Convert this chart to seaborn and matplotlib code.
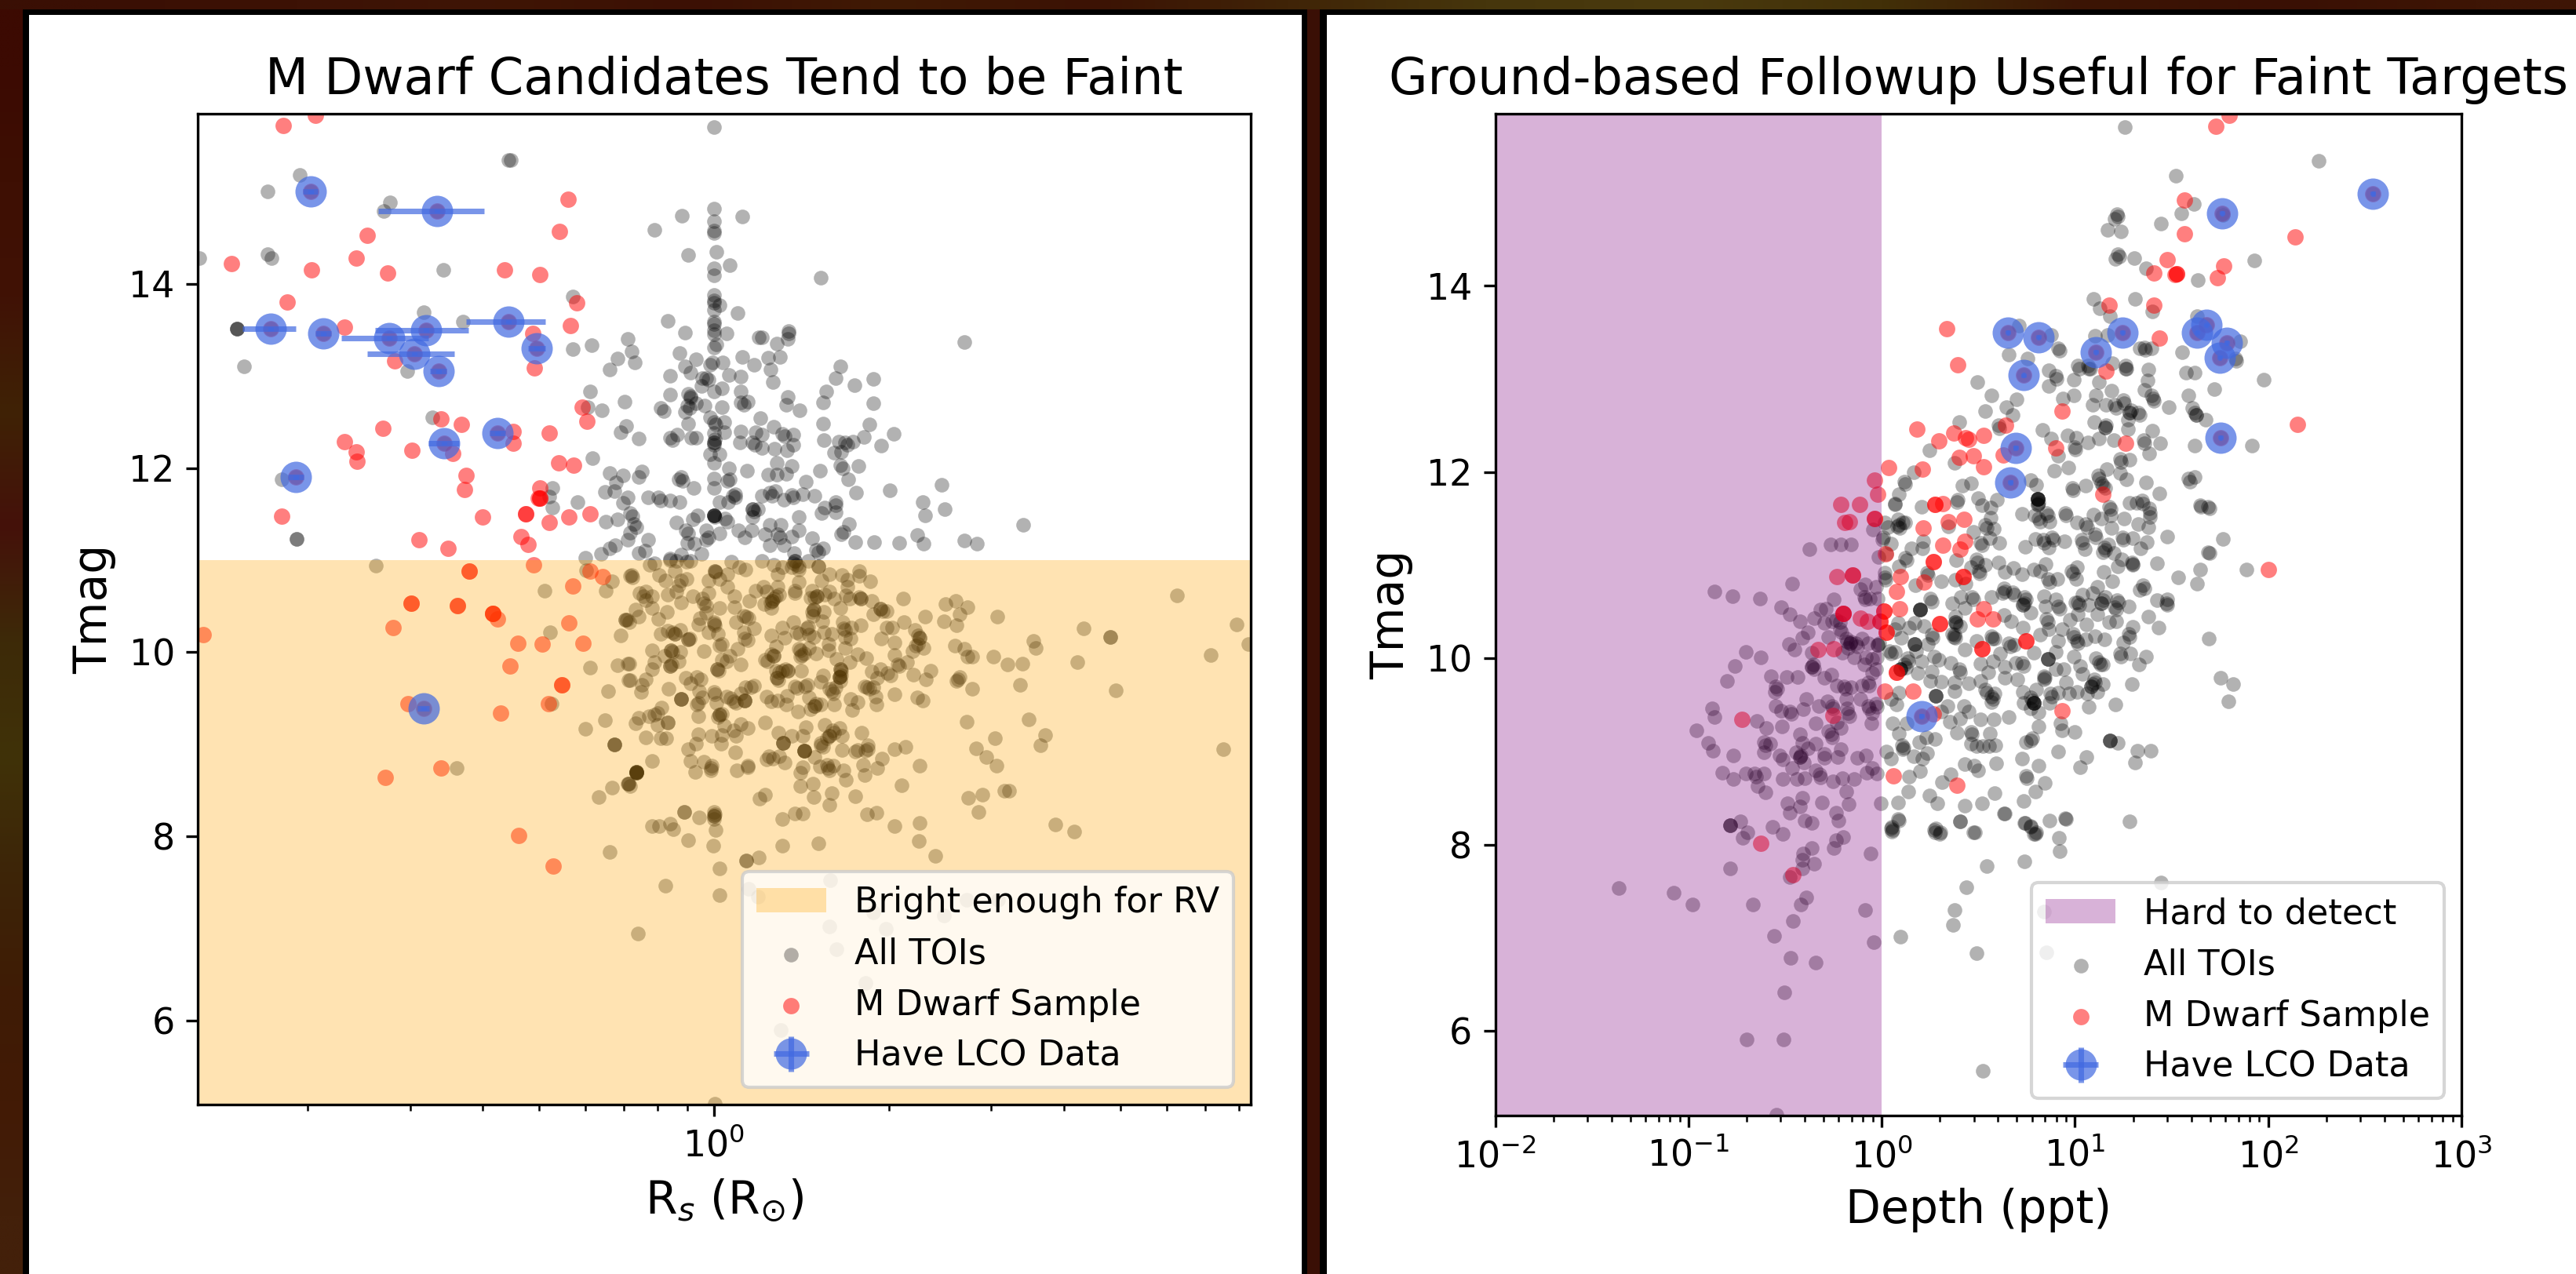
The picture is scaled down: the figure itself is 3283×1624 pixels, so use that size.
import numpy as np
import matplotlib
matplotlib.use('Agg')
import matplotlib.pyplot as plt
from matplotlib.colors import to_rgb
from matplotlib.patches import Rectangle
import seaborn as sns

# All values: (log10 Rs, Tmag) and (log10 depth, Tmag)
toi_rs_tmag = [
    (-.142,10.84),(-.103,10.97),(-.110,10.95),(-.076,11.0),(-.065,10.99),(-.047,10.98),(-.040,10.99),(-.094,10.84),
    (-.083,10.78),(-.067,10.88),(-.047,10.80),(-.056,10.78),(-.061,10.73),(.001,10.88),(.001,10.88),(.003,10.87),
    (.009,10.80),(-.009,10.78),(.023,10.85),(.023,10.71),(.030,10.98),(.043,10.92),(.054,10.90),(.035,10.61),
    (-.009,10.64),(-.036,10.61),(-.020,10.58),(-.018,10.53),(-.014,10.51),(.009,10.48),(.035,10.49),(-.079,10.63),
    (-.065,10.66),(-.057,10.54),(-.128,10.64),(-.122,10.61),(-.117,10.66),(-.106,10.61),(-.117,10.57),(-.106,10.48),
    (-.135,10.46),(-.130,10.39),(-.096,10.36),(-.081,10.44),(-.15,10.35),(-.146,10.33),(-.024,10.37),(-.027,10.30),
    (0,10.31),(0,10.33),(.002,10.29),(-.009,10.22),(.007,10.20),(-.014,10.43),(.038,10.33),(.052,10.40),(.056,10.39),
    (.060,10.37),(.069,10.26),(.052,10.22),(.058,10.13),(.053,10.15),(-.092,10.20),(-.079,10.23),(-.068,10.20),
    (-.068,10.20),(-.072,10.22),(-.058,10.24),(-.045,10.14),(-.045,10.14),(-.042,10.15),(.013,10.09),(.009,10.07),
    (-.017,10.01),(-.107,10.02),(-.074,10.02),(-.074,10.02),(-.072,10.00),(-.058,10.00),(-.085,9.96),(-.103,9.89),
    (-.061,9.90),(-.075,9.85),(-.075,9.85),(-.073,9.87),(-.106,9.82),(-.146,9.88),(.041,10.04),(.027,9.96),(.014,9.92),
    (.022,9.90),(.046,9.87),(.005,9.82),(.005,9.82),(.008,9.80),(-.049,9.72),(-.029,9.73),(-.023,9.71),(-.040,9.66),
    (-.117,9.71),(-.124,9.65),(-.144,9.70),(-.126,9.57),(-.078,9.60),(-.025,9.58),(-.020,9.51),(0,9.57),(.002,9.54),
    (-.057,9.49),(-.057,9.49),(-.057,9.49),(-.030,9.43),(-.027,9.45),(.004,9.45),(.022,9.52),(.029,9.50),(.034,9.47),
    (.038,9.45),(.046,9.55),(.054,9.62),(.069,9.64),(.063,9.62),(.053,9.48),(.053,9.48),(.053,9.48),(-.091,9.40),
    (-.103,9.32),(-.097,9.34),(-.112,9.31),(-.130,9.29),(-.135,9.23),(-.097,9.21),(-.080,9.24),(-.080,9.24),(-.027,9.31),
    (.009,9.32),(.009,9.32),(.007,9.30),(.014,9.33),(.017,9.20),(.034,9.15),(.046,9.22),(.058,9.18),(-.118,9.08),
    (-.092,9.07),(-.082,9.07),(-.027,9.11),(-.004,9.09),(.014,9.10),(.038,9.09),(-.031,9.01),(-.044,8.95),(.012,9.01),
    (.036,8.91),(-.106,8.82),(-.040,8.82),(-.018,8.81),(-.004,8.77),(-.005,8.72),(-.005,8.74),(-.033,8.70),(.039,8.72),
    (.058,8.77),(.058,8.75),(-.133,8.70),(-.133,8.70),(-.133,8.70),(-.133,8.70),(-.148,8.57),(-.144,8.55),
    (.083,10.99),(.103,10.95),(.117,10.92),(.139,10.99),(.139,10.99),(.136,10.97),(.142,10.95),(.146,10.93),(.133,10.92),
    (.162,10.99),(.146,10.90),(.179,10.93),(.179,10.93),(.110,10.85),(.198,10.85),(.220,10.84),(.250,10.88),(.250,10.83),
    (.269,10.77),(.185,10.78),(.229,10.79),(.229,10.71),(.146,10.76),(.110,10.71),(.085,10.71),(.072,10.67),(.090,10.66),
    (.112,10.63),(.107,10.61),(.061,10.56),(.100,10.56),(.100,10.56),(.103,10.58),(.097,10.54),(.086,10.52),(.098,10.48),
    (.139,10.67),(.139,10.64),(.169,10.67),(.177,10.61),(.177,10.61),(.173,10.59),(.198,10.66),(.191,10.63),(.166,10.59),
    (.207,10.58),(.227,10.62),(.234,10.58),(.253,10.58),(.253,10.58),(.250,10.60),(.272,10.56),(.217,10.48),(.172,10.46),
    (.172,10.46),(.169,10.44),(.189,10.44),(.170,10.40),(.186,10.34),(.325,10.58),(.286,10.47),(.286,10.47),(.290,10.45),
    (.297,10.45),(.274,10.41),(.136,10.33),(.117,10.27),(.162,10.28),(.159,10.26),(.142,10.22),(.147,10.20),(.121,10.16),
    (.098,10.18),(.163,10.19),(.172,10.17),(.189,10.22),(.202,10.20),(.221,10.33),(.223,10.26),(.226,10.24),(.236,10.27),
    (.253,10.29),(.225,10.17),(.235,10.15),(.197,10.09),(.197,10.02),(.225,10.05),(.106,10.06),(.102,9.96),(.102,9.96),
    (.099,9.98),(.088,9.92),(.092,9.90),(.146,10.04),(.149,10.02),(.164,10.05),(.151,9.97),(.155,9.99),(.175,9.99),
    (.148,9.95),(.211,9.93),(.247,9.98),(.262,9.94),(.233,9.89),(.217,9.82),(.217,9.82),(.219,9.80),(.216,9.73),(.216,9.73),
    (.216,9.73),(.219,9.75),(.218,9.69),(.209,9.62),(.202,9.58),(.199,9.60),(.205,9.55),(.106,9.80),(.117,9.80),(.112,9.78),
    (.127,9.80),(.127,9.80),(.123,9.82),(.108,9.72),(.108,9.72),(.111,9.70),(.150,9.80),(.188,9.75),(.184,9.68),(.143,9.61),
    (.139,9.63),(.161,9.65),(.156,9.63),(.091,9.52),(.098,9.47),(.110,9.48),(.126,9.53),(.124,9.43),(.164,9.51),(.173,9.42),
    (.173,9.42),(.176,9.44),(.166,9.38),(.144,9.36),(.184,9.43),(.206,9.43),(.235,9.49),(.247,9.46),(.237,9.37),(.280,9.43),
    (.278,9.52),(.259,9.63),(.263,9.62),(.267,9.60),(.274,9.62),(.272,9.79),(.286,9.82),(.281,9.72),(.299,9.77),(.304,9.75),
    (.310,9.54),(.310,9.97),(.287,10.15),(.297,10.27),(.307,10.27),(.326,10.33),(.310,10.11),(.345,10.24),(.354,10.16),
    (.354,10.16),(.351,10.18),(.351,10.09),(.347,10.07),(.361,10.05),(.342,10.01),(.332,9.89),(.316,9.87),(.319,9.85),
    (.343,9.76),(.372,9.80),(.364,9.71),(.349,9.51),(.359,9.48),(.363,10.39),(.398,10.52),(.416,10.56),(.436,10.49),
    (.422,10.41),(.395,10.34),(.417,10.29),(.487,10.39),(.414,10.07),(.430,10.04),(.436,9.95),(.444,9.95),(.481,9.95),
    (.423,9.73),(.417,9.69),(.420,9.71),(.444,9.60),(.435,9.25),(.483,9.07),(.451,8.96),(.469,8.86),(.486,8.77),
    (.088,9.24),(.111,9.13),(.134,9.09),(.119,9.02),(.119,9.02),(.119,9.02),(.152,9.09),(.158,9.19),(.190,9.21),(.216,9.18),
    (.204,9.15),(.207,9.13),(.198,9.09),(.198,9.09),(.195,9.07),(.220,9.09),(.184,9.02),(.184,8.99),(.187,8.97),(.254,9.13),
    (.264,8.99),(.264,8.95),(.261,8.93),(.243,8.92),(.247,8.94),(.220,8.94),(.155,8.93),(.155,8.93),(.155,8.93),(.155,8.93),
    (.173,8.86),(.095,8.87),(.090,8.84),(.101,8.85),(.112,8.87),(.121,8.80),(.153,8.75),(.149,8.69),(.182,8.76),(.195,8.78),
    (.205,8.77),(.199,8.72),(.196,8.74),(.223,8.72),(.227,8.62),(.256,8.78),(.259,8.67),(.281,8.74),(.289,8.85),(.310,8.95),
    (.330,8.97),(.354,8.77),(.322,8.56),(.148,8.55),(.170,8.57),(.171,8.43),(.203,8.47),(.243,8.44),(.198,8.34),(.088,8.45),
    (.078,8.41),(.437,8.42),(.461,8.45),(.455,8.27),(.499,8.5),(-.051,8.27),(-.051,8.27),(-.026,8.21),(0,8.27),(0,8.22),
    (0,8.22),(.001,8.24),(0,8.19),(-.107,8.11),(-.094,8.11),(-.075,8.14),(-.070,8.08),(.003,8.07),(-.045,7.96),(-.001,7.90),
    (.118,8.19),(.139,8.25),(.152,8.25),(.263,8.24),(.279,8.26),(.311,8.11),(.354,8.15),(.352,7.95),(.117,7.90),(.179,7.93),
    (.380,7.79),(.055,7.74),(.055,7.74),(.077,7.77),(.009,7.65),
    (-.582,10.94),(-.291,10.67),(-.282,10.22),(-.220,10.89),(-.186,10.67),(-.176,10.77),(-.213,9.83),(-.166,9.86),(-.148,9.88),
    (-.160,10.18),(-.144,10.83),(-.140,10.81),(-.153,10.35),(-.153,10.35),(-.147,9.70),(-.182,9.58),(-.280,9.44),(-.188,9.26),
    (-.221,9.17),(-.172,9.00),(-.172,9.00),(-.172,9.00),(-.442,8.74),(-.133,8.69),(-.133,8.69),(-.133,8.69),(-.147,8.57),
    (-.147,8.57),(-.176,8.53),(-.198,8.43),(-.180,7.83),(-.083,7.47),(-.131,6.95),(.009,7.36),(.001,5.10),(.059,7.43),(.076,7.35),
    (.796,10.62),(.899,10.30),(.855,9.97),(.919,10.09),(.636,10.26),(.682,10.17),(.682,10.17),(.625,9.89),(.691,9.59),(.876,8.95),
    (.550,10.12),(.554,10.05),(.505,9.87),(.531,9.88),(.526,9.65),(.541,9.27),(.569,9.10),(.561,8.99),(.508,8.50),(.587,8.13),(.619,8.05),
    (.2,7.53),(.434,7.31),(.489,7.31),(.274,7.18),(.395,7.14),(.296,7.0),(.198,7.02),(.211,6.78),(.260,6.41),(.115,5.90),
    (0,15.70),(-.349,15.34),(0,14.82),(-.055,14.74),(.049,14.73),(-.102,14.59),(0,14.68),(0,14.58),(0,14.55),(-.044,14.31),
    (.004,14.35),(.027,14.20),(0,14.17),(0,14.09),(.184,14.07),(0,13.88),(0,13.79),(0,13.82),(.009,13.77),(0,13.72),(.041,13.68),
    (-.080,13.60),(0,13.56),(0,13.59),(0,13.50),(0,13.45),(-.050,13.47),(.021,13.46),(.004,13.34),(0,13.31),(.077,13.42),
    (.083,13.42),(.128,13.49),(.128,13.46),(.127,13.40),(.108,13.35),(.430,13.37),(-.148,13.40),(-.142,13.27),(-.166,13.19),
    (-.136,13.15),(-.179,13.07),(-.211,13.33),(-.243,13.29),(-.059,13.25),(-.031,13.18),(-.050,13.10),(-.041,13.04),(-.075,13.00),
    (-.003,13.15),(-.007,13.12),(.015,13.15),(.049,13.21),(.069,13.12),(.093,13.20),(.114,13.21),(.097,13.07),(.101,12.93),
    (.026,13.01),(.046,12.99),(-.014,12.98),(-.009,12.96),(-.020,12.98),(-.022,12.89),(.013,12.87),(0,12.83),(.046,12.83),
    (.217,13.10),(.209,12.98),(.242,12.90),(.274,12.97),(.193,12.83),(.188,12.71),(.274,12.70),(-.213,12.83),(-.154,12.72),
    (-.193,12.63),(-.217,12.66),(-.075,12.80),(-.045,12.81),(-.041,12.78),(-.041,12.76),(-.046,12.68),(-.042,12.65),(-.031,12.70),
    (-.050,12.61),(-.016,12.68),(-.092,12.65),(-.087,12.62),(.014,12.66),(.046,12.71),(.051,12.69),(.058,12.72),(.127,12.77),
    (.124,12.69),(.147,12.63),(.080,12.54),(-.007,12.55),(0,12.50),(.003,12.47),(.017,12.50),(-.045,12.48),(-.151,12.46),(-.160,12.39),
    (-.130,12.32),(-.076,12.33),(-.071,12.30),(-.063,12.36),(-.039,12.33),(-.031,12.33),(0,12.38),(.017,12.39),(.046,12.40),(.071,12.39),
    (.083,12.36),(.103,12.45),(.118,12.37),(.122,12.35),(.137,12.36),(.045,12.28),(.066,12.28),(.070,12.25),(.082,12.22),(.104,12.21),
    (.125,12.19),(.137,12.25),(0,12.28),(0,12.28),(0,12.25),(.001,12.31),(-.007,12.15),(.010,12.15),(0,12.06),(.187,12.48),(.189,12.30),
    (.215,12.29),(.225,12.28),(.229,12.25),(.239,12.29),(.258,12.34),(.309,12.37),(.287,12.24),(.267,12.47),(.207,12.17),(.219,12.18),
    (.217,12.03),(.221,12.00),(.248,12.02),(.108,12.06),(.133,12.02),(.026,12.00),(.057,11.97),(.093,11.93),(.108,11.93),(.124,11.94),
    (.182,11.97),(-.209,12.11),(-.179,11.95),(-.157,11.92),(-.124,11.96),(-.129,11.90),(-.061,11.88),(-.057,11.90),(-.054,11.86),
    (0,11.89),(.023,11.86),(.027,11.88),(0,11.78),(-.035,11.78),(-.168,11.84),(-.188,11.74),(-.172,11.75),(-.148,11.68),(-.157,11.62),
    (-.278,11.78),(-.284,11.69),(-.113,11.68),(-.096,11.68),(-.092,11.65),(-.076,11.65),(-.059,11.63),(.158,11.85),(.231,11.88),
    (.245,11.73),(.173,11.70),(.153,11.72),(.133,11.71),(.137,11.68),(.096,11.73),(.100,11.70),(.083,11.70),(.105,11.75),(.120,11.66),
    (.032,11.70),(.036,11.72),(.037,11.68),(.025,11.63),(.009,11.63),(.303,11.76),(.391,11.82),(.359,11.63),(.397,11.55),(.363,11.49),
    (.209,11.63),(.209,11.60),(.191,11.57),(.209,11.52),(.185,11.51),(.146,11.47),(.066,11.55),(.066,11.55),(.069,11.53),(.075,11.55),
    (.066,11.47),(0,11.49),(0,11.49),(0,11.49),(0,11.49),(.002,11.47),(.019,11.45),(.023,11.42),(-.028,11.49),(-.036,11.44),(-.065,11.41),
    (-.145,11.51),(-.141,11.48),(-.138,11.39),(-.134,11.36),(-.166,11.44),(-.186,11.42),(-.235,11.63),(-.278,11.57),(-.145,11.30),
    (-.048,11.32),(-.044,11.29),(-.014,11.32),(.009,11.29),(-.014,11.22),(-.010,11.25),(-.046,11.19),(-.034,11.18),(.042,11.32),
    (.053,11.25),(.065,11.32),(.088,11.28),(.096,11.38),(.115,11.38),(.109,11.28),(.113,11.25),(.133,11.26),(.146,11.32),(.096,11.16),
    (.120,11.16),(.169,11.24),(.232,11.39),(.219,11.28),(.223,11.31),(.243,11.20),(.276,11.20),(.318,11.19),(.349,11.27),(.361,11.18),
    (.430,11.21),(.452,11.18),(.532,11.38),(-.113,11.22),(-.149,11.22),(-.170,11.16),(-.179,11.13),(-.119,11.10),(-.129,11.08),
    (-.194,11.07),(-.221,11.03),(-.022,11.07),(-.075,11.02),(-.056,11.06),(.176,11.11),(.180,11.09),(.187,11.13),(.138,11.08),
    (-.712,15.18),(-.768,15.00),(-.354,15.34),(-.558,14.88),(-.568,14.79),(-.886,14.28),(-.768,14.32),(-.761,14.28),(-.465,14.15),
    (-.243,13.86),(-.499,13.69),(-.432,13.59),(-.820,13.51),(-.820,13.51),(-.820,13.51),(-.809,13.10),(-.528,13.05),(-.484,12.55),
    (-.744,11.88),(-.718,11.23),(-.718,11.23),
]

toi_depth_tmag = [
    (.069,11.65),(.208,11.63),(.390,11.68),(.520,11.64),(.563,11.62),(.725,11.55),(.563,11.51),(.807,11.65),(.807,11.65),(.812,11.67),
    (.854,11.56),(.860,11.53),(.793,11.53),(.813,11.50),(.819,11.47),(.867,11.47),(.949,11.56),(.955,11.53),(1.010,11.46),(1.057,11.44),
    (1.063,11.41),(1.097,11.54),(1.179,11.63),(1.185,11.60),(1.135,11.50),(1.185,11.53),(1.253,11.50),(1.328,11.44),(1.389,11.56),
    (1.382,11.41),(1.321,11.67),(1.646,11.64),(1.690,11.63),(1.479,11.31),(1.188,11.40),(1.246,11.30),(1.252,11.27),(1.298,11.29),
    (1.371,11.25),(1.341,11.18),(1.104,11.33),(1.110,11.30),(1.152,11.19),(1.158,11.16),(1.172,11.22),(1.145,11.14),(1.203,11.13),
    (1.240,11.06),(1.294,11.03),(1.300,11.00),(1.223,10.99),(1.298,11.01),(1.425,11.02),(1.689,11.14),(1.646,10.95),(1.535,10.87),
    (1.632,10.80),(1.150,10.93),(1.192,10.83),(1.352,10.78),(1.358,10.75),(1.334,10.73),(1.118,10.77),(1.091,10.70),(1.037,10.68),
    (1.003,10.60),(1.016,10.60),(1.022,10.57),(1.071,10.57),(1.138,10.59),(1.138,10.59),(1.144,10.62),(1.158,10.66),(1.219,10.62),
    (1.225,10.60),(1.206,10.55),(1.212,10.52),(1.280,10.56),(1.118,10.47),(1.016,10.47),(.973,10.41),(1.061,10.36),(1.176,10.39),
    (1.213,10.40),(1.379,10.45),(1.425,10.62),(1.476,10.63),(1.472,10.59),(1.478,10.57),(1.432,10.33),(1.298,10.34),(1.278,10.26),
    (1.284,10.23),(1.249,10.17),(1.152,10.20),(1.104,10.24),(1.057,10.20),(1.010,10.19),(1.016,10.16),(.989,10.26),(.995,10.23),
    (.935,10.31),(.863,10.31),(.820,10.25),(.915,10.19),(.899,10.07),(.861,9.99),(.861,9.99),(.861,9.99),(1.233,10.05),(1.239,10.02),
    (1.287,10.05),(1.368,10.02),(1.330,9.93),(1.693,10.21),(1.107,10.00),(1.125,9.96),(1.131,9.93),(1.145,9.93),(.996,10.02),(1.027,9.92),
    (1.041,9.83),(.942,9.88),(.899,9.88),(.955,9.74),(.840,9.81),(.846,9.79),(.840,9.77),(1.294,9.72),(1.098,9.77),(1.104,9.74),(1.084,9.70),
    (1.084,9.70),(1.090,9.72),(1.145,9.72),(1.118,9.64),(1.064,9.62),(1.010,9.64),(.969,9.62),(.915,9.63),(.874,9.62),(.880,9.59),(.867,9.52),
    (.800,9.66),(.732,9.64),(.773,9.58),(.779,9.55),(.786,9.52),(.786,9.52),(.786,9.52),(.786,9.52),(.736,9.52),(.813,9.42),(.773,9.46),
    (1.071,9.48),(1.210,9.50),(.924,9.30),(.935,9.23),(.999,9.21),(.813,9.27),(.773,9.12),(.779,9.14),(.746,9.10),(1.181,9.12),(1.181,9.12),
    (1.181,9.12),(1.222,9.09),(1.325,9.01),(1.391,9.01),(1.311,8.88),(1.060,8.94),(1.026,8.83),(.912,9.00),(.728,8.92),(.813,8.85),(.746,8.74),
    (.752,8.71),(.843,8.66),(.796,8.57),(.736,8.47),(.949,8.28),(.868,8.26),(.742,8.23),(.773,8.19),(1.283,8.25),(.800,8.13),
    (.658,9.37),(.581,9.34),(.513,9.34),(.461,9.21),(.467,9.18),(.390,9.20),(.559,9.19),(.590,9.07),(.556,9.06),(.522,9.06),(.489,9.06),
    (.461,9.08),(.594,8.87),(.498,8.80),(.479,8.85),(.430,8.86),(.276,9.13),(.231,9.15),(.195,9.10),(.235,8.98),(.211,8.92),(.165,8.95),
    (.198,8.79),(.143,8.73),(.137,8.57),(.107,9.07),(.113,9.04),(.110,9.02),(.089,9.19),(.058,9.30),(.130,9.30),(.313,8.67),(.357,8.75),
    (.249,8.53),(.288,8.44),(.083,8.45),(.087,8.26),(.051,8.19),(.057,8.16),(.430,8.42),(.518,8.44),(.586,8.55),(.637,8.33),(.407,8.25),
    (.279,8.17),(.306,8.13),(.482,8.13),(.022,9.00),(.049,8.92),(.351,9.32),(.407,9.35),(.451,9.43),(.425,9.49),(.340,9.49),(.309,9.43),
    (.279,9.60),(.279,9.60),(.279,9.60),(.379,9.65),(.452,9.73),(.512,9.76),(.536,9.66),(.542,9.63),(.570,9.59),(.576,9.56),(.566,9.53),
    (.583,9.62),(.552,9.85),(.513,9.94),(.577,9.97),(.614,10.05),(.637,9.91),(.692,9.95),(.728,9.95),(.734,9.92),(.639,9.79),(.704,9.77),
    (.786,10.06),(.658,10.16),(.664,10.13),(.685,10.14),(.430,10.09),(.491,10.19),(.567,10.24),(.573,10.21),(.583,10.21),(.729,10.33),
    (.671,10.40),(.631,10.46),(.376,9.74),(.400,9.88),(.406,9.85),(.356,9.95),(.295,9.98),(.207,9.97),(.272,10.02),(.133,10.0),(.139,9.97),
    (.119,9.93),(.125,9.90),(.096,9.88),(.096,9.88),(.096,9.88),(.188,9.84),(.261,9.86),(.252,9.76),(.309,9.75),(.171,10.15),(.171,10.15),
    (.171,10.15),(.177,10.08),(.238,10.15),(.258,10.25),(.264,10.22),(.367,10.26),(.373,10.23),(.380,10.39),(.380,10.39),(.386,10.37),
    (.407,10.35),(.376,10.25),(.382,10.22),(.380,10.45),(.367,10.59),(.428,10.54),(.411,10.66),(.468,10.66),(.474,10.63),(.570,10.66),
    (.631,10.75),(.637,10.72),(.624,10.70),(.678,10.71),(.684,10.68),(.739,10.66),(.745,10.63),(.732,10.57),(.732,10.57),(.738,10.59),
    (.773,10.49),(.840,10.67),(.847,10.56),(.899,10.63),(.915,10.56),(.921,10.53),(.854,10.42),(.860,10.39),(.200,10.52),(.200,10.52),
    (.200,10.52),(.200,10.52),(.252,10.64),(.258,10.61),(.171,10.38),(.218,10.35),(.143,10.33),(.085,10.38),(.069,10.31),(.103,10.22),
    (.069,10.07),(.042,10.08),(.048,10.05),(.089,9.63),(.078,9.50),(.049,9.56),
    (.606,11.03),(.637,10.93),(.682,10.97),(.728,10.90),(.786,10.95),(.820,10.94),(.847,11.01),(.861,10.85),(.867,10.82),(.908,10.85),
    (.983,10.94),(.989,10.91),(1.010,10.98),(1.007,10.85),(.434,10.80),(.380,10.84),(.310,10.83),(.175,10.78),(.123,11.08),(.129,11.05),
    (.153,11.18),(.211,11.18),(.215,11.26),(.234,10.92),(.240,10.89),(.089,10.99),(.015,10.92),(.015,10.87),(.021,10.84),(.022,11.12),
    (.008,11.30),(.032,11.41),(.085,11.49),(.120,11.46),(.089,11.43),(.095,11.40),(.346,11.42),(.475,11.36),(.536,11.43),(.542,11.40),
    (.581,11.39),(.513,11.24),(.519,11.21),(.610,11.24),(.559,11.29),(.489,11.06),(.495,11.03),(.536,11.00),(.502,10.94),(.508,10.91),
    (.461,10.98),(.387,11.05),(.742,11.20),(.796,11.28),(.834,11.27),(.840,11.24),(.881,11.30),(.887,11.27),(.865,11.19),(.946,11.26),
    (1.033,11.27),(1.039,11.24),(1.050,11.17),
    (-.375,11.17),(-.464,10.80),(-.864,10.72),(-.773,10.67),(-.628,10.64),(-.522,10.55),(-.474,10.47),(-.422,10.40),(-.350,10.43),
    (-.319,10.52),(-.288,10.53),(-.247,10.63),(-.257,10.40),(-.112,10.74),(-.085,10.79),(-.029,10.77),(-.091,10.66),(-.085,10.63),
    (-.019,10.64),(-.060,10.64),(-.381,10.28),(-.412,10.22),(-.479,10.15),(-.450,10.09),(-.704,10.07),(-.626,10.01),(-.758,9.92),
    (-.802,9.76),(-.572,9.81),(-.547,9.70),(-.541,9.67),(-.551,9.64),(-.493,9.80),(-.433,9.80),(-.360,9.91),(-.360,9.91),(-.354,9.93),
    (-.350,9.88),(-.298,9.79),(-.261,9.82),(-.232,9.71),(-.195,9.70),(-.189,9.67),(-.157,9.69),(-.102,9.71),(-.070,9.74),(-.064,9.71),
    (-.184,9.56),(-.178,9.46),(-.282,9.54),(-.257,9.49),(-.251,9.46),(-.327,9.49),(-.112,9.56),(-.070,9.49),(-.064,9.46),(-.029,9.51),
    (-.023,9.48),(-.054,9.30),(-.050,9.41),(-.174,9.41),(-.168,9.38),(-.230,9.31),(-.340,9.30),(-.392,9.56),(-.406,9.45),(-.474,9.43),
    (-.468,9.40),(-.547,9.49),(-.522,9.44),(-.644,9.33),(-.878,9.46),(-.864,9.37),(-.957,9.23),(-.899,9.09),(-.872,9.01),(-.767,8.96),
    (-.597,9.25),(-.518,9.27),(-.609,9.10),(-.603,9.07),(-.578,9.08),(-.609,8.99),(-.530,8.96),(-.512,8.91),(-.423,9.18),(-.412,9.09),
    (-.381,9.03),(-.443,8.99),(-.423,8.94),(-.423,8.94),(-.417,8.96),(-.402,8.88),(-.340,9.08),(-.278,9.22),(-.261,9.18),(-.255,9.15),
    (-.211,9.25),(-.298,8.97),(-.298,8.93),(-.211,9.02),(-.226,8.94),(-.128,8.93),(-.081,8.96),(-.464,8.82),(-.340,8.80),(-.323,8.75),
    (-.317,8.72),(-.251,8.68),(-.205,8.71),(-.143,8.70),(-.077,8.77),(-.050,8.82),(-.023,8.76),(-.825,8.77),(-.767,8.70),(-.702,8.76),
    (-.657,8.76),(-.651,8.73),(-.609,8.76),(-.640,8.63),(-.601,8.56),(-.512,8.70),(-.437,8.70),(-.398,8.71),(-.182,8.57),(-.489,8.44),
    (-.412,8.50),(-.423,8.41),(-.474,8.34),(-.311,8.45),(-.170,8.43),(-.004,8.44),(-.236,8.34),(-.222,8.26),(-.398,8.26),(-.360,8.23),
    (-.783,8.21),(-.783,8.21),(-.783,8.21),(-.733,8.25),(-.696,8.13),(-.719,8.07),(-.563,8.19),(-.512,8.11),(-.236,8.05),(-.199,8.08),
    (-.247,7.96),(-.360,7.96),(-.408,7.90),(-.412,7.84),(-.348,7.79),(-.412,7.74),(-.058,7.90),(-.785,7.74),(-.474,7.65),(-1.359,7.53),
    (-1.075,7.48),(-.978,7.36),(-.665,7.36),(-.392,7.43),(-.418,7.36),(-.087,7.30),(-.460,7.18),(-.555,7.02),(-.039,6.95),(-.470,6.78),
    (-.340,6.73),(-.503,6.41),(-.700,5.91),(-.508,5.91),(-.545,5.10),
    (-.215,10.31),(-.209,10.28),(-.184,10.21),(-.178,10.18),(-.164,10.16),(-.164,10.16),(-.158,10.18),(-.133,10.16),(-.127,10.13),
    (-.102,10.21),(-.070,10.16),(-.019,10.14),(-.019,10.14),(-.013,10.16),(-.205,10.06),(-.174,10.11),(-.143,10.01),(-.081,10.01),
    (-.050,9.99),(-.025,10.01),(-.091,9.93),(-.029,9.88),(-.050,9.84),(-.236,10.41),(-.298,10.38),(-.215,10.39),(-.278,10.23),(-.360,10.06),
    (1.257,15.70),(2.260,15.34),(1.522,15.18),(1.217,14.77),(1.223,14.74),(1.204,14.72),(1.616,14.88),(1.550,14.78),(1.443,14.67),
    (1.168,14.60),(1.237,14.58),(1.766,14.76),(1.222,14.34),(1.228,14.31),(1.211,14.29),(1.306,14.30),(1.367,14.19),(1.929,14.27),
    (1.634,14.06),(1.094,13.86),(1.313,13.86),(1.130,13.76),(1.181,13.67),(1.402,13.72),(.710,13.57),(.876,13.47),(1.105,13.46),
    (1.168,13.47),(1.631,13.67),(1.555,13.29),(1.855,13.40),(1.830,13.22),(1.836,13.19),(.914,13.33),(.920,13.30),(.659,13.26),(.753,13.22),
    (1.016,13.14),(1.022,13.11),(1.066,13.14),(1.072,13.11),(1.079,13.11),(1.194,13.17),(1.262,13.14),(1.268,13.11),(1.262,13.11),(1.334,13.33),
    (1.359,13.34),(1.365,13.31),(1.397,13.33),(1.379,13.10),(1.377,12.98),(1.575,13.07),(1.618,13.07),(1.978,12.99),(1.723,12.89),(1.588,12.82),
    (1.359,12.88),(1.397,12.82),(1.403,12.79),(1.410,12.76),(1.486,12.70),(1.606,12.69),(1.621,12.64),(1.627,12.61),(1.626,12.61),(1.677,12.56),
    (1.914,12.28),(1.619,12.28),(.995,12.99),(1.125,12.97),(.863,13.09),(.901,13.03),(.907,13.00),(.863,12.92),(.496,12.97),(.570,12.82),(.697,12.78),
    (.646,12.70),(.534,12.65),(.677,12.61),(.400,12.54),(.603,12.50),(.609,12.47),(.995,12.82),(.939,12.79),(1.189,12.87),(1.110,12.82),(1.250,12.77),
    (1.256,12.74),(1.092,12.72),(1.161,12.72),(1.206,12.72),(1.212,12.69),(1.283,12.64),(1.283,12.64),(1.289,12.66),(1.329,12.64),(1.335,12.61),
    (1.275,12.56),(1.100,12.54),(1.156,12.48),(1.156,12.48),(1.162,12.50),(1.275,12.46),(1.402,12.44),(1.441,12.31),(1.354,12.34),(1.360,12.31),
    (1.201,12.34),(1.125,12.36),(1.066,12.32),(1.008,12.37),(.960,12.39),(.998,12.27),(1.004,12.24),(.876,12.36),(.830,12.45),(.914,12.17),(1.232,12.14),
    (1.238,12.11),(1.283,12.13),(1.385,12.20),(1.166,12.03),(1.120,11.96),(1.126,11.93),(1.232,11.99),(1.267,11.92),(1.369,11.89),(1.436,11.77),
    (.893,12.01),(.967,12.05),(1.588,11.93),(1.594,11.90),(1.619,11.95),(.769,11.91),(.799,11.86),(.985,11.83),(.991,11.80),(1.054,11.85),(1.138,11.88),
    (1.144,11.85),(1.156,11.83),(.417,11.85),(.461,11.88),(.168,12.00),(.117,11.90),(.123,11.87),(.249,12.23),(.379,12.10),(.087,11.76),(.501,11.72),
    (.598,11.70),(.807,11.71),(.807,11.71),(.807,11.71),(.807,11.71),(.807,11.71),(.069,11.66),(.392,11.70),(1.283,11.67),(1.346,11.69),(1.352,11.66),
    (1.652,11.63),(1.695,11.61),(1.385,11.61),(1.390,11.52),(1.766,11.28),(1.695,11.13),(1.755,9.79),(1.820,9.72),(1.796,9.54),(1.887,10.95),
    (1.447,7.59),(.852,6.84),(.842,7.28),(.545,7.77),(.740,7.82),(.439,7.54),(.379,7.30),(.371,7.14),(.099,7.01),(.491,6.83),(.524,5.57),
    (.048,8.17),(.054,8.14),(.083,8.27),(.271,8.16),(.277,8.13),(.302,8.11),(.406,8.25),(.476,8.13),(.634,8.33),(.737,8.23),(.773,8.20),(.789,8.11),
    (.919,8.07),(.923,7.93),(.953,8.27),(.797,8.11),
    (-.264,11.22),(-.212,11.22),(-.160,11.22),(-.044,11.38),(.003,11.27),(-.018,11.09),(.016,11.46),(.080,11.42),(.111,11.46),(.047,11.23),
]

mdwarf_rs_tmag = [
    (-.741,15.72),(-.686,15.83),(-.597,14.53),(-.615,14.28),(-.830,14.22),(-.692,14.15),(-.561,14.12),(-.361,14.15),(-.299,14.10),(-.251,14.92),
    (-.266,14.57),(-.734,13.80),(-.236,13.79),(-.247,13.55),(-.635,13.53),(-.312,13.46),(-.309,13.09),(-.549,13.16),(-.227,12.66),(-.219,12.51),
    (-.469,12.53),(-.434,12.47),(-.570,12.43),(-.346,12.40),(-.283,12.38),(-.346,12.27),(-.635,12.29),(-.615,12.18),(-.519,12.19),(-.614,12.07),
    (-.450,12.16),(-.267,12.06),(-.242,12.03),(-.426,11.92),(-.429,11.77),(-.300,11.78),(-.300,11.67),(-.300,11.67),(-.302,11.67),(-.744,11.48),
    (-.398,11.47),(-.324,11.50),(-.324,11.50),(-.250,11.47),(-.213,11.50),(-.283,11.41),(-.332,11.26),(-.320,11.17),(-.507,11.22),(-.458,11.13),
    (-.421,10.88),(-.421,10.88),(-.310,10.95),(-.213,10.88),(-.191,10.82),(-.243,10.72),(-.521,10.53),(-.521,10.53),(-.441,10.51),(-.441,10.51),
    (-.380,10.42),(-.380,10.42),(-.380,10.42),(-.373,10.36),(-.552,10.27),(-.249,10.32),(-.878,10.19),(-.337,10.10),(-.296,10.09),(-.226,10.10),
    (-.351,9.85),(-.262,9.65),(-.262,9.65),(-.285,9.44),(-.526,9.44),(-.367,9.34),(-.470,8.74),(-.565,8.64),(-.336,8.01),(-.276,7.68),
]

mdwarf_depth_tmag = [
    (1.799,15.83),(1.731,15.71),(1.565,14.92),(1.565,14.56),(2.140,14.52),(1.479,14.28),(1.771,14.21),(1.410,14.14),(1.525,14.13),(1.525,14.13),
    (1.517,14.12),(1.738,14.09),(1.176,13.79),(1.410,13.79),(.336,13.54),(1.435,13.44),(.395,13.15),(1.161,13.08),(.932,12.65),(.641,12.50),
    (2.151,12.51),(.183,12.46),(.374,12.42),(.527,12.39),(.298,12.33),(.433,12.37),(.450,12.35),(1.262,12.31),(.901,12.26),(.629,12.18),(.402,12.16),
    (.473,12.17),(.527,12.06),(.036,12.05),(.211,12.03),(-.036,11.91),(-.020,11.76),(1.143,11.76),(-.211,11.65),(-.115,11.65),(.277,11.65),(.277,11.65),
    (.316,11.66),(-.036,11.50),(-.036,11.50),(-.191,11.46),(-.168,11.47),(.214,11.40),(.346,11.47),(.425,11.49),(.430,11.26),(.318,11.21),(.405,11.17),
    (.018,11.12),(.267,11.04),(.267,11.04),(2.0,10.95),(-.232,10.88),(-.149,10.89),(-.149,10.89),(.099,10.88),(.220,10.82),(.423,10.88),(.423,10.88),
    (.077,10.72),(-.201,10.48),(-.201,10.48),(-.201,10.48),(.091,10.53),(.012,10.51),(.012,10.51),(-.112,10.43),(-.075,10.40),(-.008,10.40),(-.008,10.40),
    (.023,10.28),(.023,10.28),(.302,10.37),(.302,10.37),(.526,10.53),(.495,10.42),(.576,10.42),(.520,10.10),(.520,10.10),(.748,10.19),(.748,10.19),
    (-.329,10.09),(-.247,10.10),(.075,9.85),(.075,9.85),(.017,9.65),(.164,9.65),(-.253,9.39),(-.723,9.34),(.267,9.40),(.935,9.44),
    (.060,8.74),(.389,8.64),(-.624,8.01),(-.460,7.68),
]

# LCO targets: log10 Rs, low end, high end of the error bar, Tmag
lco_log_rs = [-.694,-.476,-.763,-.672,-.559,-.495,-.515,-.474,-.353,-.305,-.373,-.464,-.720,-.500]
lco_log_rs_low = [-.707,-.577,-.811,-.686,-.641,-.583,-.596,-.488,-.426,-.320,-.386,-.491,-.733,-.510]
lco_log_rs_high = [-.681,-.395,-.720,-.658,-.491,-.422,-.447,-.460,-.290,-.290,-.359,-.438,-.706,-.490]
lco_tmag_left = [15.00,14.79,13.51,13.46,13.41,13.50,13.24,13.05,13.59,13.30,12.38,12.27,11.90,9.39]

lco_log_depth = [2.543,1.761,.654,.812,1.247,1.107,.736,1.631,1.680,1.787,1.749,1.754,.692,.667,.205]
lco_tmag_right = [14.99,14.78,13.50,13.45,13.50,13.29,13.04,13.50,13.58,13.39,13.23,12.37,12.26,11.89,9.38]

# slide background behind the two pasted figures
top_strip = ['#3a0f04','#3d1205','#3f1505','#3c1004','#401a05','#3c1204','#402407','#46360c','#4a3a0e','#423008','#3c1505','#3a1004','#3e1505']
left_strip = ['#3c0a02','#3e0f03','#411205','#3f2205','#45110a','#3d2a08','#403208','#3d2508','#3f1c05','#421a05','#43200a']

W, H = 3283, 1624
fig = plt.figure(figsize=(W / 300, H / 300), dpi=300, facecolor='#3a0f05')


def add_box(x0, y0, x1, y1, color):
    # rectangle in picture pixels, measured from the top left
    fig.add_artist(Rectangle((x0 / W, 1 - y1 / H), (x1 - x0) / W, (y1 - y0) / H,
                             transform=fig.transFigure, color=color, lw=0, zorder=-10))


def add_strip(x0, y0, x1, y1, colors, vertical):
    ax_s = fig.add_axes([x0 / W, 1 - y1 / H, (x1 - x0) / W, (y1 - y0) / H], zorder=-20)
    rgb = np.array([to_rgb(c) for c in colors])
    rgb = rgb[:, None, :] if vertical else rgb[None, :, :]
    ax_s.imshow(rgb, aspect='auto', interpolation='bilinear')
    ax_s.axis('off')


add_strip(0, 0, W, 12, top_strip, False)
add_strip(0, 12, 29, H, left_strip, True)
add_box(29, 12, 1666, H, 'black')
add_box(1682, 12, W, H, 'black')
add_box(37, 19, 1659, H, 'white')
add_box(1691, 19, W, H, 'white')

ax1 = fig.add_axes([252 / W, 1 - 1408 / H, (1594 - 252) / W, (1408 - 144.6) / H])
ax2 = fig.add_axes([1905.5 / W, 1 - 1422 / H, (3137 - 1905.5) / W, (1422 - 144.6) / H])

toi_rs = np.array(toi_rs_tmag).T
md_rs = np.array(mdwarf_rs_tmag).T
toi_dp = np.array(toi_depth_tmag).T
md_dp = np.array(mdwarf_depth_tmag).T

# the LCO targets are also TOIs and M dwarfs, so they show through the blue
all_rs = 10**np.r_[toi_rs[0], lco_log_rs]
all_rs_t = np.r_[toi_rs[1], lco_tmag_left]
dw_rs = 10**np.r_[md_rs[0], lco_log_rs]
dw_rs_t = np.r_[md_rs[1], lco_tmag_left]
all_dp = 10**np.r_[toi_dp[0], lco_log_depth]
all_dp_t = np.r_[toi_dp[1], lco_tmag_right]
dw_dp = 10**np.r_[md_dp[0], lco_log_depth]
dw_dp_t = np.r_[md_dp[1], lco_tmag_right]

# left panel
ax1.axhspan(5, 11, color='orange', alpha=0.3, lw=0, zorder=1.5, label='Bright enough for RV')
sns.scatterplot(x=all_rs, y=all_rs_t, color='k', alpha=0.3, s=20, linewidth=0, label='All TOIs', ax=ax1)
sns.scatterplot(x=dw_rs, y=dw_rs_t, color='r', alpha=0.5, s=25, linewidth=0, label='M Dwarf Sample', ax=ax1)
rs = 10**np.array(lco_log_rs)
rs_err = [rs - 10**np.array(lco_log_rs_low), 10**np.array(lco_log_rs_high) - rs]
ax1.errorbar(rs, lco_tmag_left, xerr=rs_err, yerr=0.02, fmt='o', color='royalblue', ms=9.6, mew=0,
             elinewidth=1.7, alpha=0.7, label='Have LCO Data')
ax1.set_xscale('log')
ax1.set_xlim(0.1294, 8.38)
ax1.set_ylim(5.09, 15.85)
ax1.set_title('M Dwarf Candidates Tend to be Faint', fontsize=15.3)
ax1.set_xlabel(r'R$_s$ (R$_{\odot}$)', fontsize=14)
ax1.set_ylabel('Tmag', fontsize=14)
ax1.tick_params(labelsize=11)
ax1.legend(loc='lower right', fontsize=10.7)

# right panel
ax2.axvspan(1e-2, 1, color='purple', alpha=0.3, lw=0, zorder=1.5, label='Hard to detect')
sns.scatterplot(x=all_dp, y=all_dp_t, color='k', alpha=0.3, s=20, linewidth=0, label='All TOIs', ax=ax2)
sns.scatterplot(x=dw_dp, y=dw_dp_t, color='r', alpha=0.5, s=25, linewidth=0, label='M Dwarf Sample', ax=ax2)
depth = 10**np.array(lco_log_depth)
ax2.errorbar(depth, lco_tmag_right, xerr=depth * 0.02, yerr=0.02, fmt='o', color='royalblue', ms=9.6, mew=0,
             elinewidth=1.7, alpha=0.7, label='Have LCO Data')
ax2.set_xscale('log')
ax2.set_xlim(1e-2, 1e3)
ax2.set_ylim(5.09, 15.85)
ax2.set_title('Ground-based Followup Useful for Faint Targets', fontsize=15.3)
ax2.set_xlabel('Depth (ppt)', fontsize=14)
ax2.set_ylabel('Tmag', fontsize=14)
ax2.tick_params(labelsize=11)
ax2.legend(loc='lower right', fontsize=10.7)

fig.savefig('out.png', dpi=300, facecolor=fig.get_facecolor())
